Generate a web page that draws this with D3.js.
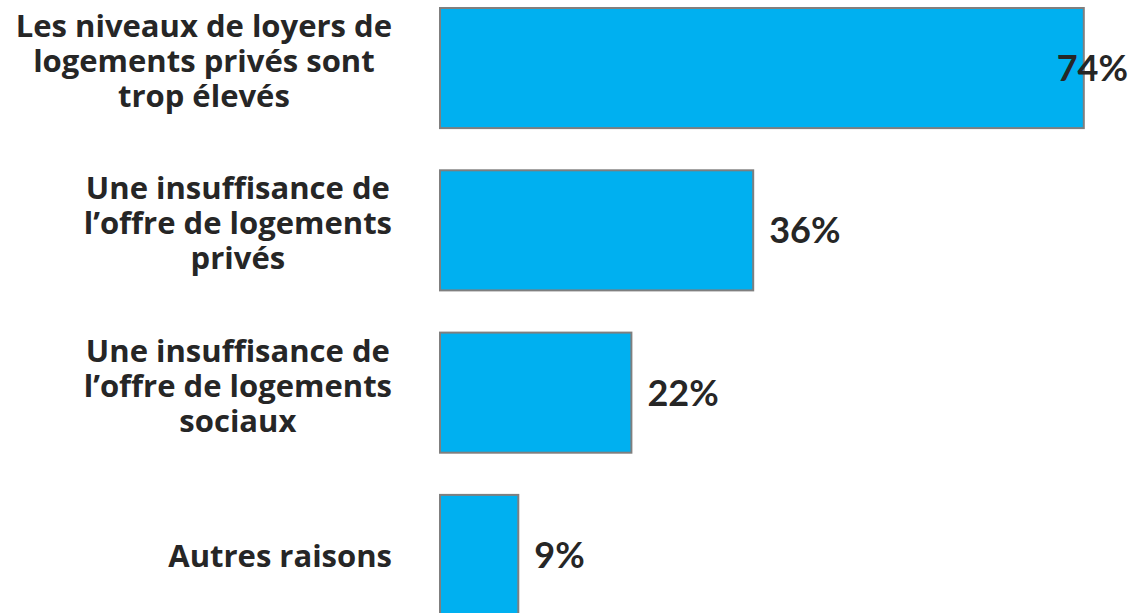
<!DOCTYPE html>
<html lang="fr">
<head>
<meta charset="utf-8">
<script src="https://cdn.jsdelivr.net/npm/d3@7/dist/d3.min.js"></script>
<style>
  body { margin: 0; background: #fff; }
  text { font-family: Lato, "Open Sans", sans-serif; font-weight: bold; fill: #262626; }
  text.cat { font-family: "Open Sans", Lato, sans-serif; }
</style>
</head>
<body>
<div id="chart"></div>
<script>
    // data
    var categories = [
        ["Les niveaux de loyers de", "logements privés sont", "trop élevés"],
        ["Une insuffisance de", "l\u2019offre de logements", "privés"],
        ["Une insuffisance de", "l\u2019offre de logements", "sociaux"],
        ["Autres raisons"]
    ]
    var values = [74, 36, 22, 9]
    var valueLabels = ["74%", "36%", "22%", "9%"]

    var width = 1135,
        height = 613,
        lineH = 35,
        labelRight = 392

    var svg = d3.select("#chart")
        .append("svg")
            .attr("width", width)
            .attr("height", height)

    var x = d3.scaleLinear()
        .domain([0, 100])
        .range([440, 1310])

    var y = d3.scaleBand()
        .domain(d3.range(values.length))
        .range([8, 615])
        .paddingInner(0.26)
        .paddingOuter(0)

    svg.selectAll("rect.bar")
        .data(values)
        .enter()
        .append("rect")
            .attr("class", "bar")
            .attr("x", x(0))
            .attr("y", function(d, i) { return y(i) })
            .attr("width", function(d) { return x(d) - x(0) })
            .attr("height", y.bandwidth())
            .attr("fill", "#00B0F0")
            .attr("stroke", "#7f7f7f")
            .attr("stroke-width", 2)

    // value labels
    svg.selectAll("text.val")
        .data(values)
        .enter()
        .append("text")
            .attr("class", "val")
            .attr("x", function(d) { return x(d) + 16 })
            .attr("y", function(d, i) { return y(i) + y.bandwidth() / 2 + 13 })
            .style("font-size", "36px")
            .text(function(d, i) { return valueLabels[i] })
            .each(function() {
                var w = this.getComputedTextLength()
                var x0 = +d3.select(this).attr("x")
                if (x0 + w > width - 7) d3.select(this).attr("x", width - 7 - w)
            })

    // category labels, centred lines in a block right-aligned to the bars
    categories.forEach(function(lines, i) {
        var g = svg.append("g")
        var cy = y(i) + y.bandwidth() / 2
        var off = lines.length > 1 ? 4 : 12
        var t = g.selectAll("text")
            .data(lines)
            .enter()
            .append("text")
                .attr("class", "cat")
                .attr("text-anchor", "middle")
                .attr("y", function(d, j) { return cy + off + (j - (lines.length - 1) / 2) * lineH })
                .style("font-size", "31px")
                .text(function(d) { return d })
        var maxW = d3.max(t.nodes(), function(n) { return n.getComputedTextLength() })
        t.attr("x", labelRight - maxW / 2)
    })
</script>
</body>
</html>
